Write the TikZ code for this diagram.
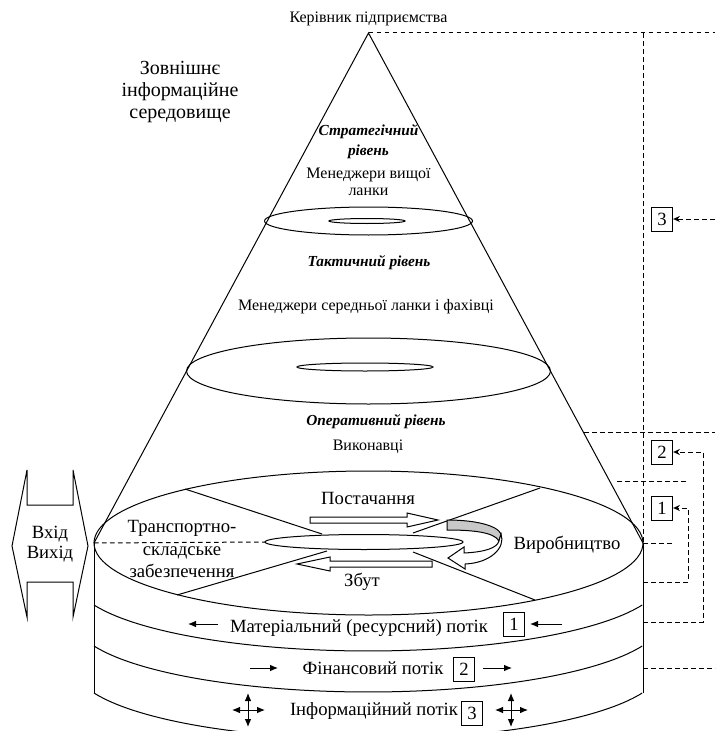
\documentclass[tikz,border=0pt]{standalone}
\usepackage{fontspec}
\setmainfont{Liberation Serif}
\usetikzlibrary{arrows.meta}

\tikzset{every picture/.style={line width=0.75pt}}
\tikzset{
  smalltxt/.style={inner sep=0.75pt, align=center, font=\fontsize{12}{15}\selectfont},
  bigtxt/.style={inner sep=0.75pt, align=center, font=\fontsize{14}{16.5}\selectfont},
  leveltxt/.style={inner sep=0.75pt, align=center, font=\fontsize{11.5}{15}\selectfont\bfseries\itshape},
  numbox/.style={draw, inner sep=0pt, minimum width=16pt, minimum height=18pt, font=\fontsize{14}{16}\selectfont},
  linkdash/.style={dash pattern=on 3.5pt off 2.5pt},
  linkarr/.style={linkdash, -{Stealth[length=5pt,width=4.5pt]}},
  flowarr/.style={-{Latex[length=6pt,width=5pt]}},
  crossarr/.style={{Latex[length=6pt,width=5pt]}-{Latex[length=6pt,width=5pt]}},
}

\begin{document}
\begin{tikzpicture}[x=0.75pt,y=0.75pt,yscale=-1,xscale=1]
    \useasboundingbox (0,0) rectangle (715,731);

    %Cone
    \coordinate (apex) at (368.5,33);
    \coordinate (baseL) at (94,543);
    \coordinate (baseR) at (643,543);
    \draw (baseL) -- (apex) -- (baseR);
    %Shape: Ellipse (strategic level)
    \draw (368.5,221) ellipse [x radius=104, y radius=14];
    \draw (367,221) ellipse [x radius=38, y radius=2.5];
    %Shape: Ellipse (tactical level)
    \draw (368.5,371) ellipse [x radius=182, y radius=33];
    \draw (365,367) ellipse [x radius=68, y radius=4];

    %Shape: Cylinder
    \draw (368.5,543) ellipse [x radius=274.5, y radius=72];
    \draw (baseL) -- (94,693);
    \draw (baseR) -- (643,693);
    \draw (94,605) arc [start angle=158.8, end angle=21.2, x radius=294, y radius=72];
    \draw (94,646) arc [start angle=158.8, end angle=21.2, x radius=294, y radius=72];
    \draw (94,693) arc [start angle=158.8, end angle=21.2, x radius=294, y radius=72];

    %Straight Lines (sectors)
    \draw (185,489) -- (322,534);
    \draw (177,595) -- (327,551);
    \draw (540,488) -- (413,533);
    \draw (413,552) -- (535,600);
    \draw [dash pattern=on 3.5pt off 2.5pt] (baseL) -- (265,542);
    %Shape: Ellipse (inner)
    \draw [fill=white] (364,542) ellipse [x radius=99, y radius=7.5];

    %Shape: Block arrows
    \draw [fill=white] (310,517) -- (407,517) -- (407,513) -- (438,520) -- (407,527) -- (407,523) -- (310,523) -- cycle;
    \draw [fill=white] (432,561) -- (330,561) -- (330,557) -- (297,564) -- (330,571) -- (330,567) -- (432,567) -- cycle;
    %Shape: Curved arrow
    \draw [fill={rgb, 255:red, 200; green, 200; blue, 200}] (447,520) .. controls (474,520) and (497,525) .. (501,534) -- (499,541) .. controls (494,532) and (472,530) .. (447,530) -- cycle;
    \draw [fill=white] (501,534) .. controls (506,548) and (490,563) .. (465,564) -- (465,569) -- (448,558) -- (464,547) -- (464,553) .. controls (485,552) and (497,548) .. (499,541) -- cycle;

    %Shape: In/Out
    \draw (12,546) -- (27,470) -- (27,505) -- (73,505) -- (73,470) -- (88,546) -- (73,617) -- (73,582) -- (27,582) -- (27,617) -- cycle;

    % Text Node
    \draw (368.5,19) node (chief) [smalltxt] {Керівник підприємства};
    % Text Node
    \draw (180,92) node (env) [bigtxt, font=\fontsize{15}{16.5}\selectfont] {Зовнішнє\\інформаційне\\середовище};
    % Text Node
    \draw (368.5,142) node (strat) [leveltxt] {Стратегічний\\рівень};
    % Text Node
    \draw (368.5,182) node (top) [smalltxt, font=\fontsize{12}{13}\selectfont] {Менеджери вищої\\ланки};
    % Text Node
    \draw (369,263) node (tact) [leveltxt] {Тактичний рівень};
    % Text Node
    \draw (366,307) node (middle) [smalltxt] {Менеджери середньої ланки і фахівці};
    % Text Node
    \draw (376,422) node (oper) [leveltxt] {Оперативний рівень};
    % Text Node
    \draw (368,447) node (staff) [smalltxt] {Виконавці};
    % Text Node
    \draw (50,544) node (inout) [bigtxt, font=\fontsize{14}{15}\selectfont] {Вхід\\Вихід};
    % Text Node
    \draw (182,549) node (trans) [bigtxt, font=\fontsize{14}{17}\selectfont] {Транспортно-\\складське\\забезпечення};
    % Text Node
    \draw (368,498) node (supply) [bigtxt] {Постачання};
    % Text Node
    \draw (362,582) node (sales) [bigtxt] {Збут};
    % Text Node
    \draw (567,545) node (prod) [bigtxt] {Виробництво};

    % Flows
    \draw (359,628) node (matflow) [bigtxt] {Матеріальний (ресурсний) потік};
    \draw (514,624) node (mbox) [numbox] {1};
    \draw [flowarr] (218,624) -- (188,624);
    \draw [flowarr] (562,624) -- (530,624);
    \draw (373,668) node (finflow) [bigtxt] {Фінансовий потік};
    \draw (464,669) node (fbox) [numbox] {2};
    \draw [flowarr] (250,668) -- (278,668);
    \draw [flowarr] (483,668) -- (512,668);
    \draw (374,711) node (infflow) [bigtxt] {Інформаційний потік};
    \draw (472,713) node (ibox) [numbox] {3};
    \draw [crossarr] (232,710) -- (265,710);
    \draw [crossarr] (248,693) -- (248,727);
    \draw [crossarr] (495,710) -- (528,710);
    \draw [crossarr] (511,693) -- (511,727);

    %Right dashed links
    \coordinate (topR) at (715,33);
    \coordinate (edgeTop) at (643,33);
    \draw [linkdash] (apex) -- (topR);
    \draw [linkdash] (edgeTop) -- (baseR);
    \draw (662,219) node (lnk3) [numbox] {3};
    \coordinate (in3) at (715,219);
    \draw [linkarr] (in3) -- (lnk3);
    \coordinate (operL) at (584,432);
    \coordinate (operR) at (715,432);
    \draw [linkdash] (operL) -- (operR);
    \draw (662,452) node (lnk2) [numbox] {2};
    \coordinate (from2) at (643,622);
    \coordinate (turn2a) at (703,622);
    \coordinate (turn2b) at (703,452);
    \draw [linkarr] (from2) -- (turn2a) -- (turn2b) -- (lnk2);
    \coordinate (midL) at (617,481);
    \coordinate (midR) at (688,481);
    \draw [linkdash] (midL) -- (midR);
    \draw (662,508) node (lnk1) [numbox] {1};
    \coordinate (from1) at (643,582);
    \coordinate (turn1a) at (688,582);
    \coordinate (turn1b) at (688,508);
    \draw [linkarr] (from1) -- (turn1a) -- (turn1b) -- (lnk1);
    \coordinate (prodR) at (673,543);
    \draw [linkdash] (baseR) -- (prodR);
    \coordinate (botL) at (643,668);
    \coordinate (botR) at (715,668);
    \draw [linkdash] (botL) -- (botR);

\end{tikzpicture}
\end{document}
